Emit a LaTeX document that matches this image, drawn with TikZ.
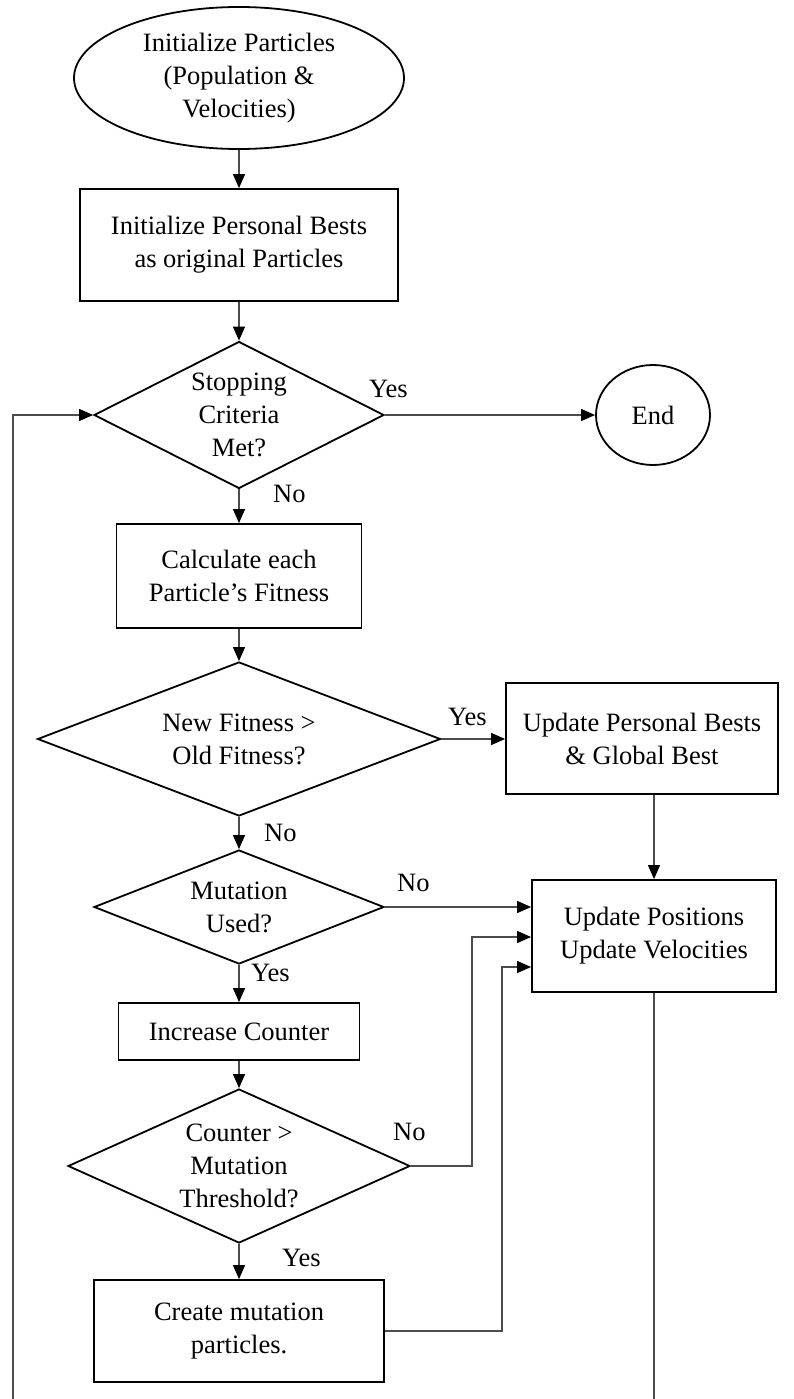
\documentclass[tikz,border=0pt]{standalone}
\usepackage{fontspec}
\setmainfont{Liberation Serif}
\usetikzlibrary{shapes.geometric,arrows.meta}
\begin{document}
\begin{tikzpicture}[x=1pt,y=-1pt,
  every node/.style={font=\fontsize{26.5}{33}\selectfont},
  box/.style={draw=black,line width=1.8pt,rectangle,align=center,inner sep=0pt},
  oval/.style={draw=black,line width=1.8pt,ellipse,align=center,inner sep=0pt},
  dec/.style={draw=black,line width=1.8pt,diamond,align=center,inner sep=0pt},
  conn/.style={draw=black!70,line width=1.2pt},
  arr/.style={conn,-{Triangle[length=14pt,width=12pt,black]}},
  lbl/.style={inner sep=0pt,anchor=west}]
\useasboundingbox (0,0) rectangle (793,1399);
\node[oval,minimum width=330,minimum height=142] (init) at (239,78) {Initialize Particles\\(Population \&\\Velocities)};
\node[box,minimum width=318,minimum height=112] (pb) at (239,245) {Initialize Personal Bests\\as original Particles};
\node[dec,minimum width=290,minimum height=147,aspect=1.97] (stop) at (239,415) {Stopping\\Criteria\\Met?};
\node[oval,minimum width=114,minimum height=100] (endn) at (653,415) {End};
\node[box,minimum width=245,minimum height=104] (fit) at (239,576) {Calculate each\\Particle’s Fitness};
\node[dec,minimum width=403,minimum height=154,aspect=2.6] (cmp) at (239,739) {New Fitness >\\Old Fitness?};
\node[box,minimum width=272,minimum height=111] (upb) at (642,738.5) {Update Personal Bests\\\& Global Best};
\node[dec,minimum width=290,minimum height=114,aspect=2.54] (mut) at (239,907) {Mutation\\Used?};
\node[box,minimum width=244,minimum height=112] (upv) at (654,936) {Update Positions\\Update Velocities};
\node[box,minimum width=241,minimum height=57] (inc) at (239,1031.5) {Increase Counter};
\node[dec,minimum width=342,minimum height=154,aspect=2.22] (thr) at (239,1166) {Counter >\\Mutation\\Threshold?};
\node[box,minimum width=290,minimum height=102] (cre) at (239,1331) {Create mutation\\particles.};
% labels
\node[lbl] (y1) at (369,389) {Yes};
\node[lbl] (n1) at (273,494) {No};
\node[lbl] (y2) at (448,717) {Yes};
\node[lbl] (n2) at (264,833) {No};
\node[lbl] (n3) at (397,883) {No};
\node[lbl] (y3) at (251,973) {Yes};
\node[lbl] (n4) at (393,1132) {No};
\node[lbl] (y4) at (282,1258) {Yes};
% coordinates
\coordinate (bl) at (13,1399);
\coordinate (br) at (654,1399);
\coordinate (k1) at (472,1166);
\coordinate (k2) at (472,937);
\coordinate (k3) at (502,1331);
\coordinate (k4) at (502,967);
% connectors
\draw[arr] (init.south) -- (pb.north);
\draw[arr] (pb.south) -- (stop.north);
\draw[arr] (stop.east) -- (endn.west);
\draw[arr] (stop.south) -- (fit.north);
\draw[arr] (fit.south) -- (cmp.north);
\draw[arr] (cmp.east) -- (upb.west |- cmp.east);
\draw[arr] (cmp.south) -- (mut.north);
\draw[arr] (upv.north |- upb.south) -- (upv.north);
\draw[arr] (mut.east) -- (mut.east -| upv.west);
\draw[arr] (mut.south) -- (inc.north);
\draw[arr] (inc.south) -- (thr.north);
\draw[arr] (thr.east) -- (k1) -- (k2) -- (k2 -| upv.west);
\draw[arr] (thr.south) -- (cre.north);
\draw[arr] (cre.east) -- (k3) -- (k4) -- (k4 -| upv.west);
\draw[conn] (upv.south) -- (br);
\draw[arr] (bl) -- (bl |- stop.west) -- (stop.west);
\end{tikzpicture}
\end{document}
